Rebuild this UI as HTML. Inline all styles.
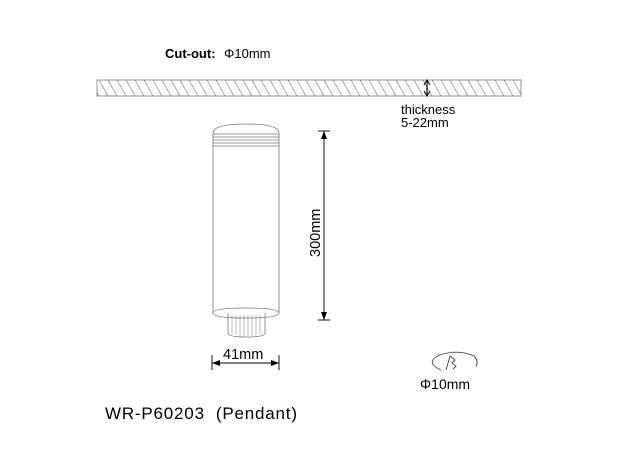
<html><body style="margin:0;background:#fff">
<svg width="620" height="458" viewBox="0 0 620 458" xmlns="http://www.w3.org/2000/svg" font-family="Liberation Sans, sans-serif">
<defs>
<pattern id="h" width="9" height="16" patternUnits="userSpaceOnUse"><line x1="0" y1="0" x2="9" y2="16" stroke="#888" stroke-width="0.7"/></pattern>
</defs>
<text x="165" y="58" font-size="13" font-weight="bold">Cut-out:</text>
<text x="224" y="58" font-size="13">Φ10mm</text>
<rect x="97" y="80" width="424" height="16" fill="url(#h)" stroke="#777" stroke-width="0.8"/>
<line x1="427" y1="81" x2="427" y2="95" stroke="#000" stroke-width="1.2"/>
<path d="M424,85 L427,80 L430,85 M424,91 L427,96 L430,91" fill="none" stroke="#000"/>
<text x="401" y="114" font-size="13">thickness</text>
<text x="401" y="127" font-size="13">5-22mm</text>
<g fill="none" stroke="#777" stroke-width="0.8">
<path d="M213,313 L213,133 Q213,124 246,124 Q279,124 279,133 L279,313"/>
<line x1="213" y1="134" x2="279" y2="134"/><line x1="213" y1="137" x2="279" y2="137"/>
<line x1="213" y1="140" x2="279" y2="140"/><line x1="213" y1="143" x2="279" y2="143"/>
<line x1="213" y1="146" x2="279" y2="146"/>
<path d="M213,313 Q213,318 246,318 Q279,318 279,313 Q279,308 246,308 Q213,308 213,313"/>
<path d="M228,313 L228,333 Q228,337 246,337 Q265,337 265,333 L265,313"/>
<g stroke-width="0.5"><line x1="232" y1="315" x2="232" y2="334"/><line x1="236" y1="315" x2="236" y2="335"/><line x1="240" y1="315" x2="240" y2="336"/><line x1="244" y1="315" x2="244" y2="336"/><line x1="248" y1="315" x2="248" y2="336"/><line x1="252" y1="315" x2="252" y2="336"/><line x1="256" y1="315" x2="256" y2="335"/><line x1="260" y1="315" x2="260" y2="334"/></g>
</g>
<g stroke="#000" stroke-width="0.9">
<line x1="318" y1="131" x2="330" y2="131"/><line x1="318" y1="320" x2="330" y2="320"/>
<line x1="324" y1="131" x2="324" y2="320"/>
<line x1="212" y1="355" x2="212" y2="370"/><line x1="279" y1="355" x2="279" y2="370"/>
<line x1="212" y1="363" x2="279" y2="363"/>
</g>
<path d="M321,139 L324,131 L327,139Z M321,312 L324,320 L327,312Z M220,360 L212,363 L220,366Z M271,360 L279,363 L271,366Z"/>
<text transform="translate(320,257) rotate(-90)" font-size="14.5">300mm</text>
<text x="223" y="359" font-size="14.5">41mm</text>
<path d="M441,370 Q424,362 440,355 Q458,349 474,356 Q479,361 476,366" fill="none" stroke="#444" stroke-width="0.9"/>
<path d="M446,370 L450,356 L455,360 L452,363 L456,366 L453,369" fill="none" stroke="#444" stroke-width="0.9"/>
<text x="420" y="389" font-size="14">Φ10mm</text>
<text x="105" y="419" font-size="17" xml:space="preserve" textLength="192" lengthAdjust="spacing">WR-P60203  (Pendant)</text>
</svg>
</body></html>
